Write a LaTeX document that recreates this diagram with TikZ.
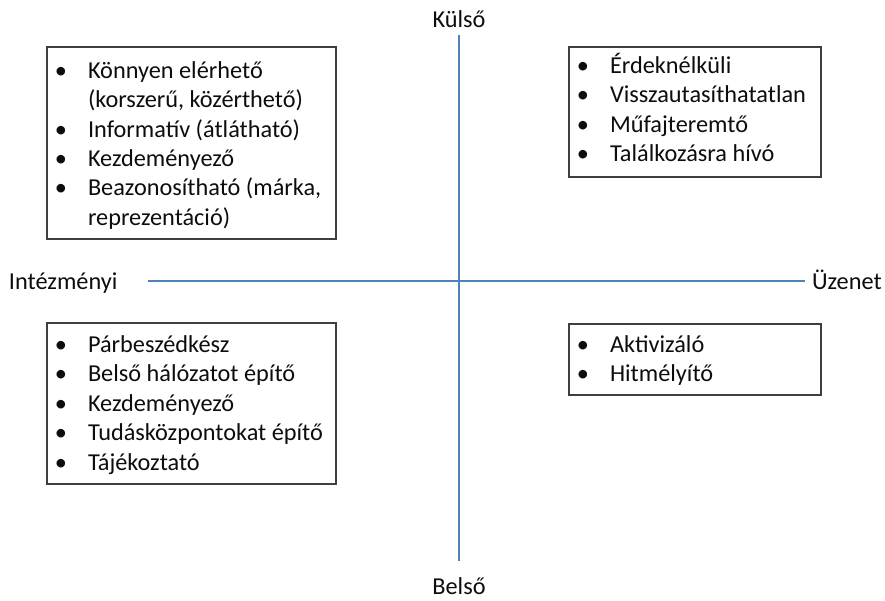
\documentclass[tikz,border=0pt]{standalone}
\usepackage{fontspec}
\setmainfont{Carlito}
\definecolor{axisblue}{HTML}{4F81BD}
\definecolor{boxgray}{HTML}{3F3F3F}
\definecolor{txt}{HTML}{0D0D0D}
\begin{document}
\begin{tikzpicture}[x=1pt,y=-1pt,
  every node/.style={inner sep=0pt, outer sep=0pt, text=txt},
  qbox/.style={draw=boxgray, line width=1.4pt},
  qtext/.style={anchor=base west, font=\fontsize{24.3}{29}\selectfont},
  qbul/.style={anchor=base, font=\fontsize{24.3}{29}\selectfont},
  axislabel/.style={font=\fontsize{24.3}{29}\selectfont},
  axisline/.style={draw=axisblue, line width=1.1pt}]
\useasboundingbox (0,0) rectangle (885,600);
% axes
\coordinate (vtop) at (459,35);
\coordinate (vbot) at (459,561);
\coordinate (hleft) at (148,281);
\coordinate (hright) at (805,281);
\draw[axisline] (vtop) -- (vbot);
\draw[axisline] (hleft) -- (hright);
\node[axislabel, anchor=base] (kulso) at (459,27) {Külső};
\node[axislabel, anchor=base] (belso) at (459,594) {Belső};
\node[axislabel, anchor=base west] (intez) at (9,289) {Intézményi};
\node[axislabel, anchor=base west] (uzenet) at (812,289) {Üzenet};
% boxes
\node[qbox, minimum width=289pt, minimum height=192pt] (tl) at (191.5,143) {};
\node[qbox, minimum width=252pt, minimum height=130pt] (tr) at (695,112) {};
\node[qbox, minimum width=289pt, minimum height=161pt] (bl) at (191.5,403.5) {};
\node[qbox, minimum width=252pt, minimum height=71pt] (br) at (695,359.5) {};
% top-left
\node[qbul] (tlb1) at (61,78) {•};
\node[qtext] (tlt1) at (88,78) {Könnyen elérhető};
\node[qtext] (tlt2) at (88,107.5) {(korszerű, közérthető)};
\node[qbul] (tlb3) at (61,137) {•};
\node[qtext] (tlt3) at (88,137) {Informatív (átlátható)};
\node[qbul] (tlb4) at (61,166) {•};
\node[qtext] (tlt4) at (88,166) {Kezdeményező};
\node[qbul] (tlb5) at (61,195.5) {•};
\node[qtext] (tlt5) at (88,195.5) {Beazonosítható (márka,};
\node[qtext] (tlt6) at (88,225) {reprezentáció)};
% top-right
\node[qbul] (trb1) at (583,73) {•};
\node[qtext] (trt1) at (610,73) {Érdeknélküli};
\node[qbul] (trb2) at (583,102.5) {•};
\node[qtext] (trt2) at (610,102.5) {Visszautasíthatatlan};
\node[qbul] (trb3) at (583,132) {•};
\node[qtext] (trt3) at (610,132) {Műfajteremtő};
\node[qbul] (trb4) at (583,161.5) {•};
\node[qtext] (trt4) at (610,161.5) {Találkozásra hívó};
% bottom-left
\node[qbul] (blb1) at (61,352) {•};
\node[qtext] (blt1) at (88,352) {Párbeszédkész};
\node[qbul] (blb2) at (61,381.5) {•};
\node[qtext] (blt2) at (88,381.5) {Belső hálózatot építő};
\node[qbul] (blb3) at (61,411) {•};
\node[qtext] (blt3) at (88,411) {Kezdeményező};
\node[qbul] (blb4) at (61,440.5) {•};
\node[qtext] (blt4) at (88,440.5) {Tudásközpontokat építő};
\node[qbul] (blb5) at (61,470) {•};
\node[qtext] (blt5) at (88,470) {Tájékoztató};
% bottom-right
\node[qbul] (brb1) at (583,352) {•};
\node[qtext] (brt1) at (610,352) {Aktivizáló};
\node[qbul] (brb2) at (583,381) {•};
\node[qtext] (brt2) at (610,381) {Hitmélyítő};
\end{tikzpicture}
\end{document}
